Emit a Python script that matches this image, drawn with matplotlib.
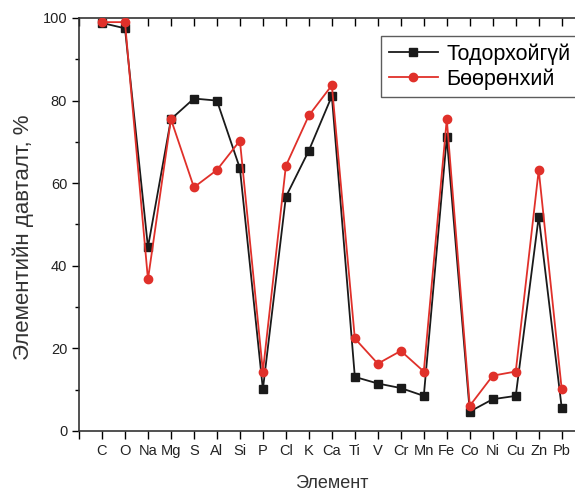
import matplotlib
matplotlib.use("Agg")
import matplotlib.pyplot as plt
from matplotlib.ticker import MultipleLocator

plt.rcParams['font.family'] = ['Liberation Sans', 'DejaVu Sans']

elements = ["C", "O", "Na", "Mg", "S", "Al", "Si", "P", "Cl", "K", "Ca",
            "Ti", "V", "Cr", "Mn", "Fe", "Co", "Ni", "Cu", "Zn", "Pb"]
todorkhoigui = [98.8, 97.5, 44.5, 75.5, 80.5, 80.0, 63.6, 10.1, 56.7, 67.9, 81.1,
                13.1, 11.5, 10.4, 8.5, 71.1, 4.7, 7.7, 8.5, 51.9, 5.6]
boorenkhii = [99.0, 99.0, 36.7, 75.5, 59.0, 63.2, 70.3, 14.4, 64.2, 76.4, 83.7,
              22.4, 16.3, 19.4, 14.4, 75.5, 6.1, 13.4, 14.4, 63.2, 10.1]
series_names = ["Тодорхойгүй", "Бөөрөнхий"]

W, H = 575, 492
fig = plt.figure(figsize=(W/100, H/100), dpi=100)
ax_l, ax_r, ax_t, ax_b = 79, 584.7, 18, 431
ax = fig.add_axes([ax_l/W, 1 - ax_b/H, (ax_r - ax_l)/W, (ax_b - ax_t)/H])

x = list(range(len(elements)))
ax.plot(x, todorkhoigui, color="#1a1a1a", lw=1.3, marker="s", ms=5.2,
        label=series_names[0], zorder=3)
ax.plot(x, boorenkhii, color="#e0302a", lw=1.3, marker="o", ms=6,
        label=series_names[1], zorder=4)

ax.set_xlim(-1, 21)
ax.set_ylim(0, 100)
ax.set_xticks(list(range(-1, 21)))
ax.set_xticklabels([""] + elements, fontsize=10.5, color="#222222")
ax.yaxis.set_major_locator(MultipleLocator(20))
ax.yaxis.set_minor_locator(MultipleLocator(10))
ax.tick_params(axis="y", which="major", direction="out", length=5, width=1,
               labelsize=10.5, labelcolor="#222222")
ax.tick_params(axis="y", which="minor", direction="out", length=3, width=1)
ax.tick_params(axis="x", which="major", direction="out", length=6, width=1,
               top=False)

# top inward ticks
sec = ax.secondary_xaxis("top")
sec.set_xticks(list(range(-1, 21)))
sec.tick_params(direction="in", length=6, width=1, labeltop=False)
sec.spines["top"].set_visible(False)

for s in ["left", "bottom", "top"]:
    ax.spines[s].set_linewidth(1.2)
    ax.spines[s].set_color("#333333")
ax.spines["right"].set_visible(False)

ax.set_ylabel("Элементийн давталт, %", fontsize=16, color="#333333")
ax.yaxis.set_label_coords((34 - ax_l)/(ax_r - ax_l), (ax_b - 237.5)/(ax_b - ax_t))
ax.set_xlabel("Элемент", fontsize=13, color="#333333", labelpad=12)

# legend box: left 381, top 36, bottom 93 (pixels), extends past the right edge
lx0 = (381 - ax_l)/(ax_r - ax_l)
lx1 = (600 - ax_l)/(ax_r - ax_l)
ly0 = (ax_b - 93)/(ax_b - ax_t)
ly1 = (ax_b - 36)/(ax_b - ax_t)
leg = ax.legend(loc="upper left", bbox_to_anchor=(lx0, ly0, lx1 - lx0, ly1 - ly0),
                mode="expand", fontsize=15.5, frameon=True, fancybox=False,
                edgecolor="#333333", handlelength=2.3, borderpad=0.35,
                labelspacing=0.15, handletextpad=0.4, borderaxespad=0)
leg.get_frame().set_linewidth(1.0)

fig.savefig("out.png", dpi=100)
